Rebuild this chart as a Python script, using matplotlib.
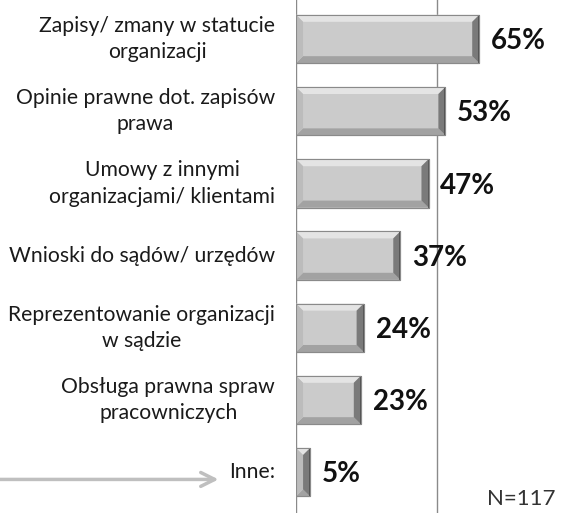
import matplotlib
matplotlib.use("Agg")
import matplotlib.pyplot as plt
from matplotlib.patches import Polygon

# ── Données ──────────────────────────────────────────────────────────────────
labels = [
    "Zapisy/ zmany w statucie\norganizacji",
    "Opinie prawne dot. zapisów\nprawa",
    "Umowy z innymi\norganizacjami/ klientami",
    "Wnioski do sądów/ urzędów",
    "Reprezentowanie organizacji\nw sądzie",
    "Obsługa prawna spraw\npracowniczych",
    "Inne:",
]
values = [65, 53, 47, 37, 24, 23, 5]
value_labels = [f"{v}%" for v in values]
note = "N=117"

FONT = ["Lato", "DejaVu Sans"]
plt.rcParams["font.family"] = FONT

fig = plt.figure(figsize=(5.74, 5.13), dpi=100)
ax = fig.add_axes([296 / 574, 0, 278 / 574, 1])

H = 0.67
DX, DY = 2.5, 0.097
y = list(range(len(values)))

ax.barh(y, values, height=H, color="#cbcbcb", edgecolor="#8a8a8a", linewidth=0.8, zorder=3)

for yi, v in zip(y, values):
    t, b = yi - H / 2, yi + H / 2
    dx = min(DX, v / 2)
    faces = [
        ([(0, t), (v, t), (v - dx, t + DY), (dx, t + DY)], "#e4e4e4"),   # haut
        ([(0, b), (v, b), (v - dx, b - DY), (dx, b - DY)], "#a2a2a2"),   # bas
        ([(v, t), (v, b), (v - dx, b - DY), (v - dx, t + DY)], "#7a7a7a"),  # droite
        ([(0, t), (0, b), (dx, b - DY), (dx, t + DY)], "#bcbcbc"),       # gauche
    ]
    for pts, col in faces:
        ax.add_patch(Polygon(pts, closed=True, facecolor=col, edgecolor="none", zorder=4))
    # arête droite plus sombre
    ax.plot([v, v], [t, b], color="#4a4a4a", linewidth=1.2, zorder=5, solid_capstyle="butt")
    ax.add_patch(Polygon([(0, t), (v, t), (v, b), (0, b)], closed=True, fill=False,
                         edgecolor="#8a8a8a", linewidth=0.8, zorder=5))

for yi, v, lab in zip(y, values, value_labels):
    ax.text(v + 4.2, yi + 0.03, lab, ha="left", va="center", fontsize=20,
            fontweight="bold", color="#111111", zorder=6)

for yi, lab in zip(y, labels):
    ax.text(-7.4, yi, lab, ha="right", va="center", multialignment="center",
            fontsize=15.2, color="#1a1a1a", linespacing=1.4, clip_on=False)

ax.axvline(0, color="#8a8a8a", linewidth=1.0, zorder=2)
ax.axvline(50, color="#8a8a8a", linewidth=1.0, zorder=2)

# flèche "Inne"
ax.annotate("", xy=(-26.5, y[-1] + 0.1), xytext=(-110, y[-1] + 0.1),
            arrowprops=dict(arrowstyle="->", color="#bfbfbf", lw=2.5,
                            mutation_scale=25), annotation_clip=False)

ax.text(0.935, 0.008, note, transform=ax.transAxes, ha="right", va="bottom",
        fontsize=16, color="#333333")

ax.set_xlim(0, 98.6)
ax.set_ylim(6.565, -0.54)
ax.axis("off")

fig.savefig("out.png", dpi=100)
